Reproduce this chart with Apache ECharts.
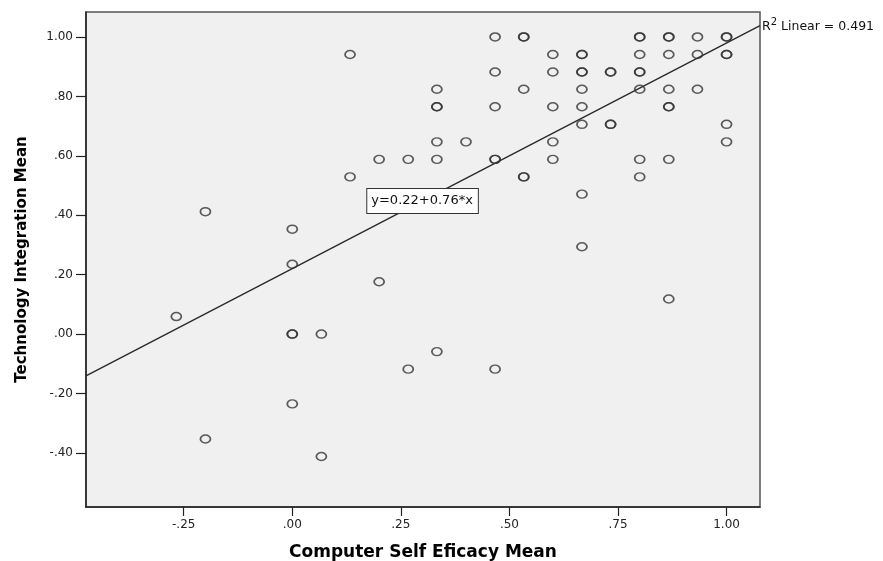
<!DOCTYPE html>
<html>
<head>
<meta charset="utf-8">
<script src="https://cdn.jsdelivr.net/npm/echarts@6/dist/echarts.min.js"></script>
<style>
  html, body { margin: 0; padding: 0; background: #ffffff; }
  #chart { width: 883px; height: 561px; }
</style>
</head>
<body>
<div id="chart"></div>
<script>
// Computer self-efficacy mean (x) and technology integration mean (y), one entry per respondent
const cseMean = [
  -0.267,
  -0.2, -0.2,
  0, 0, 0, 0, 0,
  0.067, 0.067,
  0.133, 0.133,
  0.2, 0.2,
  0.267, 0.267,
  0.333, 0.333, 0.333, 0.333, 0.333, 0.333,
  0.4,
  0.467, 0.467, 0.467, 0.467, 0.467, 0.467,
  0.533, 0.533, 0.533, 0.533, 0.533,
  0.6, 0.6, 0.6, 0.6, 0.6,
  0.667, 0.667, 0.667, 0.667, 0.667, 0.667, 0.667, 0.667, 0.667,
  0.733, 0.733, 0.733, 0.733,
  0.8, 0.8, 0.8, 0.8, 0.8, 0.8, 0.8, 0.8,
  0.867, 0.867, 0.867, 0.867, 0.867, 0.867, 0.867, 0.867,
  0.933, 0.933, 0.933,
  1, 1, 1, 1, 1, 1
];
const tiMean = [
  0.059,
  0.412, -0.353,
  0.353, 0.235, 0, 0, -0.235,
  0, -0.412,
  0.941, 0.529,
  0.588, 0.176,
  0.588, -0.118,
  0.824, 0.765, 0.765, 0.647, 0.588, -0.059,
  0.647,
  1, 0.882, 0.765, 0.588, 0.588, -0.118,
  1, 1, 0.824, 0.529, 0.529,
  0.941, 0.882, 0.765, 0.647, 0.588,
  0.941, 0.941, 0.882, 0.882, 0.824, 0.765, 0.706, 0.471, 0.294,
  0.882, 0.882, 0.706, 0.706,
  1, 1, 0.941, 0.882, 0.882, 0.824, 0.588, 0.529,
  1, 1, 0.941, 0.824, 0.765, 0.765, 0.588, 0.118,
  1, 0.941, 0.824,
  1, 1, 0.941, 0.941, 0.706, 0.647
];

// Linear fit
const fitIntercept = 0.22;
const fitSlope = 0.76;
const rSquared = 0.491;
const equationAtX = 0.3;

// Tick values
const xTicks = [-0.25, 0, 0.25, 0.5, 0.75, 1.0];
const yTicks = [-0.4, -0.2, 0, 0.2, 0.4, 0.6, 0.8, 1.0];

const xRange = [-0.475, 1.077];
const yRange = [-0.582, 1.084];

const fit = x => fitIntercept + fitSlope * x;
const points = cseMean.map((x, i) => [x, tiMean[i]]);

// SPSS-style labels: ".80", "-.20", "1.00"
function tickLabel(v) {
  let s = Math.abs(v).toFixed(2);
  if (s.charAt(0) === '0') s = s.slice(1);
  return (v < -1e-9 ? '-' : '') + s;
}

const FONT = 'DejaVu Sans';
const ELLIPSE = 'path://M0 5A5 5 0 1 1 10 5A5 5 0 1 1 0 5Z';

const chart = echarts.init(document.getElementById('chart'));
chart.setOption({
  animation: false,
  backgroundColor: '#ffffff',
  grid: {
    left: 86, right: 123, top: 12, bottom: 54,
    outerBoundsMode: 'none',
    containLabel: false,
    show: true,
    backgroundColor: '#f0f0f0',
    borderColor: '#555555',
    borderWidth: 1.5
  },
  xAxis: {
    type: 'value',
    min: xRange[0], max: xRange[1],
    name: 'Computer Self Eficacy Mean',
    nameLocation: 'middle',
    nameGap: 37,
    nameTextStyle: { fontFamily: FONT, fontWeight: 'bold', fontSize: 17, color: '#000' },
    axisLine: { onZero: false, lineStyle: { color: '#222', width: 1.5 } },
    axisTick: { show: true, length: 9, customValues: xTicks, lineStyle: { color: '#222', width: 1.2 } },
    axisLabel: {
      customValues: xTicks, margin: 12,
      fontFamily: FONT, fontSize: 12, color: '#222',
      formatter: tickLabel
    },
    splitLine: { show: false }
  },
  yAxis: {
    type: 'value',
    min: yRange[0], max: yRange[1],
    name: 'Technology Integration Mean',
    nameLocation: 'middle',
    nameGap: 56,
    nameTextStyle: { fontFamily: FONT, fontWeight: 'bold', fontSize: 15, color: '#000' },
    axisLine: { onZero: false, lineStyle: { color: '#222', width: 1.5 } },
    axisTick: { show: true, length: 10, customValues: yTicks, lineStyle: { color: '#222', width: 1.2 } },
    axisLabel: {
      customValues: yTicks, margin: 13,
      fontFamily: FONT, fontSize: 12, color: '#222',
      formatter: tickLabel
    },
    splitLine: { show: false }
  },
  series: [
    {
      name: 'Fit',
      type: 'line',
      silent: true,
      symbol: 'circle',
      symbolSize: 0,
      showSymbol: true,
      lineStyle: { color: '#2a2a2a', width: 1.4 },
      z: 2,
      data: [
        [xRange[0], fit(xRange[0])],
        {
          value: [equationAtX, fit(equationAtX)],
          label: {
            show: true,
            position: 'inside',
            formatter: 'y=' + fitIntercept.toFixed(2) + '+' + fitSlope.toFixed(2) + '*x',
            fontFamily: FONT, fontSize: 13, color: '#111',
            backgroundColor: '#ffffff',
            borderColor: '#333', borderWidth: 1,
            padding: [6, 5, 5, 4]
          }
        },
        {
          value: [xRange[1], fit(xRange[1])],
          label: {
            show: true,
            position: 'right',
            distance: 2,
            formatter: '{r|R}{s|2}{t| Linear = ' + rSquared.toFixed(3) + '}',
            rich: {
              r: { fontFamily: FONT, fontSize: 12.5, color: '#111', lineHeight: 16, verticalAlign: 'bottom' },
              s: { fontFamily: FONT, fontSize: 10, color: '#111', lineHeight: 16, verticalAlign: 'top' },
              t: { fontFamily: FONT, fontSize: 12.5, color: '#111', lineHeight: 16, verticalAlign: 'bottom' }
            }
          }
        }
      ]
    },
    {
      name: 'Respondents',
      type: 'scatter',
      silent: true,
      symbol: ELLIPSE,
      symbolSize: [10, 8],
      itemStyle: { color: 'rgba(0,0,0,0)', borderColor: '#333', borderWidth: 1.6 },
      z: 3,
      data: points
    }
  ]
});
</script>
</body>
</html>
